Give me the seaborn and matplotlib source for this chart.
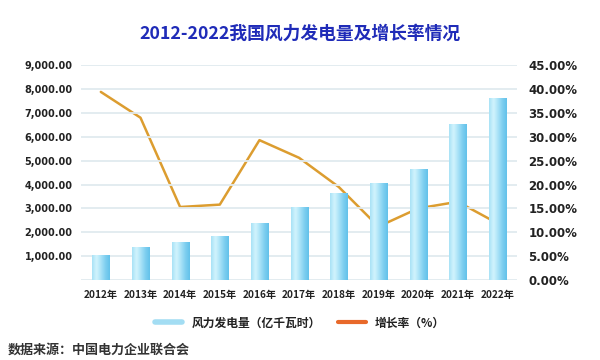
import numpy as np
import pandas as pd
import seaborn as sns
import matplotlib.pyplot as plt
from matplotlib.colors import LinearSegmentedColormap
from matplotlib.lines import Line2D

years = ["2012年", "2013年", "2014年", "2015年", "2016年", "2017年",
         "2018年", "2019年", "2020年", "2021年", "2022年"]
power = [1030, 1401, 1598, 1856, 2409, 3046, 3660, 4057, 4665, 6556, 7627]
growth = [39.4, 34.0, 15.3, 15.8, 29.3, 25.6, 19.5, 11.2, 15.0, 16.4, 11.9]

left_ticks = [0, 1000, 2000, 3000, 4000, 5000, 6000, 7000, 8000, 9000]
right_ticks = [0, 5, 10, 15, 20, 25, 30, 35, 40, 45]

sns.set_theme(style="white")
plt.rcParams["font.family"] = ["Noto Sans CJK SC", "DejaVu Sans"]

df = pd.DataFrame({"year": years, "power": power, "growth": growth})

fig = plt.figure(figsize=(6, 3.6), dpi=100)
ax = fig.add_axes([0.135, 0.222, 0.727, 0.597])
ax2 = ax.twinx()

# bars on top of the line, like the original
ax.set_zorder(2)
ax.patch.set_visible(False)

sns.barplot(data=df, x="year", y="power", ax=ax, width=0.43,
            color="#9ad9f2", saturation=1, zorder=3)
sns.lineplot(data=df, x="year", y="growth", ax=ax2, sort=False,
             color="#dc9d30", linewidth=1.8)

ax.set_ylim(0, 9000)
ax2.set_ylim(0, 45)
ax.set_xlim(-0.5, 10.5)

# cylinder-like gradient fill for each bar
cmap = LinearSegmentedColormap.from_list(
    "cyl", ["#a8e2f6", "#d2f4fd", "#a9e2f7", "#7fcff0", "#62c1ea"])
grad = np.linspace(0, 1, 64).reshape(1, -1)
for p in list(ax.patches):
    x0, w, h = p.get_x(), p.get_width(), p.get_height()
    im = ax.imshow(grad, cmap=cmap, aspect="auto", extent=[x0, x0 + w, 0, h],
                   zorder=3, interpolation="bicubic")
    im.set_clip_path(p)
    p.set_facecolor("none")
    p.set_edgecolor("none")
ax.set_xlim(-0.5, 10.5)
ax.set_ylim(0, 9000)

ax.set_yticks(left_ticks)
ax.set_yticklabels([""] + [f"{v:,.2f}" for v in left_ticks[1:]],
                   fontsize=7, fontweight="bold", color="#222222",
                   family="DejaVu Sans")
ax2.set_yticks(right_ticks)
ax2.set_yticklabels([f"{v:.2f}%" for v in right_ticks],
                    fontsize=8.5, fontweight="bold", color="#222222",
                    family="DejaVu Sans")
ax.tick_params(axis="x", labelsize=7.3, length=0, pad=7)
for t in ax.get_xticklabels():
    t.set_fontweight("bold")
    t.set_color("#222222")
ax.tick_params(axis="y", length=0, pad=6)
ax2.tick_params(axis="y", length=0, pad=8)

ax.grid(axis="y", color="#e0eaef", linewidth=1.3)
ax.set_axisbelow(True)
ax.set_xlabel("")
ax.set_ylabel("")
ax2.set_ylabel("")
ax2.grid(False)
for a in (ax, ax2):
    for s in a.spines.values():
        s.set_visible(False)

fig.text(0.5, 0.907, "2012-2022我国风力发电量及增长率情况", ha="center", va="center",
         fontsize=12.8, fontweight="bold", color="#1f2bb8")

handles = [Line2D([], [], color="#a3ddf3", linewidth=4),
           Line2D([], [], color="#e8692a", linewidth=3)]
fig.legend(handles, ["风力发电量（亿千瓦时）", "增长率（%）"], loc="center",
           bbox_to_anchor=(0.5, 0.103), ncol=2, frameon=False,
           prop={"size": 8.5, "weight": "bold"}, handlelength=2.3,
           columnspacing=1.5, labelcolor="#222222")

fig.text(0.013, 0.028, "数据来源：中国电力企业联合会", ha="left", va="center",
         fontsize=9.4, fontweight="bold", color="#333333")

fig.savefig("out.png", dpi=100)
